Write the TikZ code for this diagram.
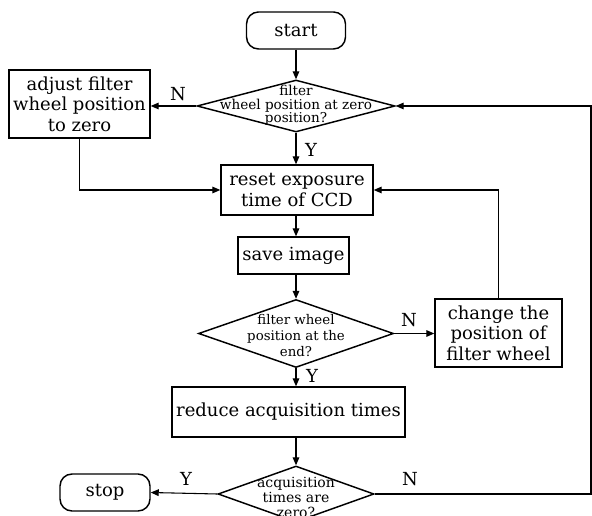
\documentclass[tikz,border=0pt]{standalone}
\usepackage{fontspec}
\setmainfont{DejaVu Serif}
\usetikzlibrary{shapes.geometric,arrows.meta}

\tikzset{every picture/.style={line width=0.75pt}}

\begin{document}
\begin{tikzpicture}[x=0.75pt,y=0.75pt,yscale=-1,xscale=1,
    box/.style={draw, line width=1.1pt, inner sep=0pt, align=center, font=\fontsize{13.5}{15.5}\selectfont},
    term/.style={box, rounded corners=9pt},
    decision/.style={draw, shape=diamond, line width=1.1pt, inner sep=0pt},
    qtext/.style={inner sep=0pt, align=center},
    yn/.style={inner sep=0pt, font=\fontsize{13.5}{13.5}\selectfont},
    arr/.style={-{Triangle[length=6pt,width=5pt]}, line width=0.8pt}]
        \useasboundingbox (0,0) rectangle (592,516);

        %Terminals
        \node [term, minimum width=74.25pt, minimum height=27.75pt] (start) at (296,30.5) {start};
        \node [term, minimum width=67.5pt, minimum height=27.75pt] (stop) at (105,492.5) {stop};

        %Decisions
        \node [decision, minimum width=148.5pt, minimum height=39pt] (q1) at (296,106) {};
        \node [qtext, font=\fontsize{10.2}{10}\selectfont] (q1t) at (296,105.5) {filter\\wheel position at zero\\position?};
        \node [decision, minimum width=146.25pt, minimum height=51pt] (q2) at (296,333.5) {};
        \node [qtext, font=\fontsize{10}{12}\selectfont] (q2t) at (296,336) {filter wheel\\position at the\\end?};
        \node [decision, minimum width=117pt, minimum height=42pt] (q3) at (296,494) {};
        \node [qtext, font=\fontsize{10.5}{11.5}\selectfont] (q3t) at (296,497.5) {acquisition\\times are\\zero?};

        %Process boxes
        \node [box, minimum width=105.75pt, minimum height=51pt] (adjust) at (79.5,104) {adjust filter\\wheel position\\to zero};
        \node [box, minimum width=114pt, minimum height=37.5pt] (reset) at (297,190) {reset exposure\\time of CCD};
        \node [box, minimum width=83.25pt, minimum height=27.75pt] (save) at (293.5,255.5) {save image};
        \node [box, minimum width=95.25pt, minimum height=51pt] (change) at (498.5,333) {change the\\position of\\filter wheel};
        \node [box, minimum width=174.75pt, minimum height=37.5pt] (reduce) at (288.5,412) {reduce acquisition times};

        %Y / N labels
        \node [yn] (n1) at (178,94) {N};
        \node [yn] (y1) at (311,150) {Y};
        \node [yn] (n2) at (409,320) {N};
        \node [yn] (y2) at (312,376) {Y};
        \node [yn] (y3) at (186,479) {Y};
        \node [yn] (n3) at (410,479) {N};

        %Loop corners at the right edge
        \coordinate (loopB) at (591,494);
        \coordinate (loopT) at (591,106);

        %Connectors
        \draw [arr] (start) -- (q1);
        \draw [arr] (q1.west) -- (q1.west -| adjust.east);
        \draw [arr] (q1.south) -- (reset.north -| q1.south);
        \draw [arr] (adjust.south) |- (reset.west);
        \draw [arr] (reset.south -| q1.south) -- (save.north -| q1.south);
        \draw [arr] (save.south -| q1.south) -- (q2.north);
        \draw [arr] (q2.east) -- (q2.east -| change.west);
        \draw [arr] (change.north) |- (reset.east);
        \draw [arr] (q2.south) -- (reduce.north -| q2.south);
        \draw [arr] (reduce.south -| q3.north) -- (q3.north);
        \draw [arr] (q3.west) -- (stop.east);
        \draw [arr] (q3.east) -- (loopB) -- (loopT) -- (q1.east);
\end{tikzpicture}
\end{document}
